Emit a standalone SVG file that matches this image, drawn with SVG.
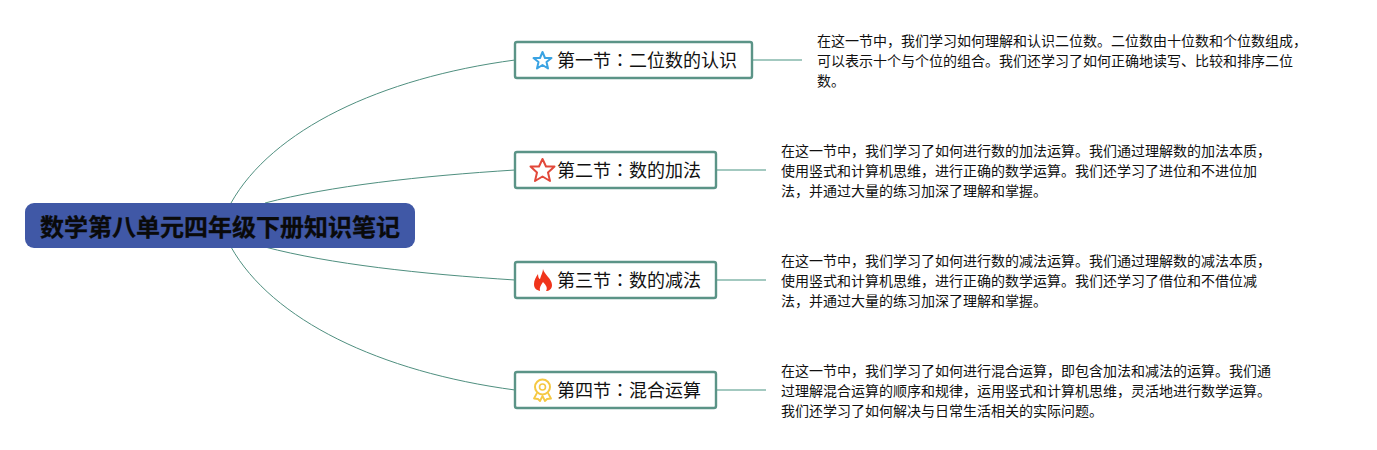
<svg xmlns="http://www.w3.org/2000/svg" width="1377" height="450" viewBox="0 0 1377 450">
<style>
text{font-family:"Noto Sans CJK SC","Liberation Sans",sans-serif;fill:#111}
.box{fill:#fff;stroke:#5b9487;stroke-width:2.400}
.t{font-size:18px}
.p{font-family:"Noto Sans CJK TC","Liberation Sans",sans-serif}
.d{font-size:14px}
.c{fill:none;stroke:#4f8f7f;stroke-width:1}
.l{fill:none;stroke:#a3c9c0;stroke-width:1.800}
</style>
<rect width="1377" height="450" fill="#fff"/>
<g id="connectors">
<path class="c" d="M231 203C272 130 380 78 515 60"/>
<path class="c" d="M265 203C330 186 420 176 515 170"/>
<path class="c" d="M265 247C330 264 420 274 515 280"/>
<path class="c" d="M231 247C272 320 380 372 515 390"/>
<path class="l" d="M752 60H802"/>
<path class="l" d="M716 170H766"/>
<path class="l" d="M716 280H766"/>
<path class="l" d="M716 390H766"/>
</g>
<g id="root">
<rect x="25" y="203" width="390" height="45" rx="9" fill="#4058a6"/>
<text x="40" y="236" font-size="24" font-weight="700" stroke="#0a0a0a" stroke-width="0.300" style="fill:#0a0a0a">数学第八单元四年级下册知识笔记</text>
</g>
<g id="node1">
<rect class="box" x="515" y="42" width="237" height="36" rx="2"/>
<path d="M542.500 52L545 58H551.500L546.500 62L548 68.500L542.500 65L537 68.500L538.500 62L533.500 58H540Z" fill="none" stroke="#3aa3e3" stroke-width="2" stroke-linejoin="round"/>
<text class="t" x="557" y="67">第一节<tspan class="p">：</tspan>二位数的认识</text>
</g>
<g id="node2">
<rect class="box" x="515" y="152" width="201" height="36" rx="2"/>
<path d="M542.500 159L546 166.500H554.500L548 172.500L550 181L542.500 176.500L535 181L537 172.500L530.500 166.500H539Z" fill="none" stroke="#e2483a" stroke-width="2" stroke-linejoin="round"/>
<text class="t" x="557" y="177">第二节<tspan class="p">：</tspan>数的加法</text>
</g>
<g id="node3">
<rect class="box" x="515" y="262" width="201" height="36" rx="2"/>
<path d="M543 269C544 274 552 279 552 285C552 289 549 291 546 291C548 288 546 285 543 282C541 285 539 288 540 291C536 290 534 288 534 284C534 280 536 277 538 274C538 277 539 279 540 279C541 275 543 272 543 269Z" fill="#f0341a"/>
<text class="t" x="557" y="287">第三节<tspan class="p">：</tspan>数的减法</text>
</g>
<g id="node4">
<rect class="box" x="515" y="372" width="201" height="36" rx="2"/>
<circle cx="542.500" cy="387" r="7.500" fill="none" stroke="#f5c842" stroke-width="2"/>
<circle cx="542.500" cy="387" r="3" fill="none" stroke="#f5c842" stroke-width="1.600"/>
<path d="M537 393L534 398.500L538 399L540 401L542.500 396L545 401L547 399L551 398.500L548 393" fill="none" stroke="#f5c842" stroke-width="1.800" stroke-linejoin="round"/>
<text class="t" x="557" y="397">第四节<tspan class="p">：</tspan>混合运算</text>
</g>
<g id="detail1">
<text class="d" x="817" y="46">在这一节中，我们学习如何理解和认识二位数。二位数由十位数和个位数组成，</text>
<text class="d" x="817" y="66">可以表示十个与个位的组合。我们还学习了如何正确地读写、比较和排序二位</text>
<text class="d" x="817" y="86">数。</text>
</g>
<g id="detail2">
<text class="d" x="781" y="156">在这一节中，我们学习了如何进行数的加法运算。我们通过理解数的加法本质，</text>
<text class="d" x="781" y="176">使用竖式和计算机思维，进行正确的数学运算。我们还学习了进位和不进位加</text>
<text class="d" x="781" y="196">法，并通过大量的练习加深了理解和掌握。</text>
</g>
<g id="detail3">
<text class="d" x="781" y="266">在这一节中，我们学习了如何进行数的减法运算。我们通过理解数的减法本质，</text>
<text class="d" x="781" y="286">使用竖式和计算机思维，进行正确的数学运算。我们还学习了借位和不借位减</text>
<text class="d" x="781" y="306">法，并通过大量的练习加深了理解和掌握。</text>
</g>
<g id="detail4">
<text class="d" x="781" y="376">在这一节中，我们学习了如何进行混合运算，即包含加法和减法的运算。我们通</text>
<text class="d" x="781" y="396">过理解混合运算的顺序和规律，运用竖式和计算机思维，灵活地进行数学运算。</text>
<text class="d" x="781" y="416">我们还学习了如何解决与日常生活相关的实际问题。</text>
</g>
</svg>
